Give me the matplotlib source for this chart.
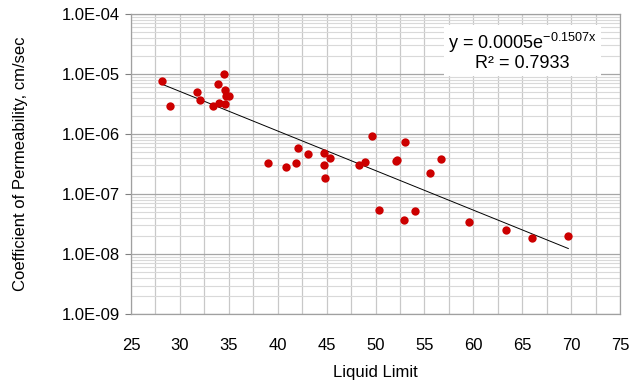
import numpy as np
import matplotlib
matplotlib.use("Agg")
import matplotlib.pyplot as plt
from matplotlib.ticker import FixedLocator, FixedFormatter, MultipleLocator, LogLocator, NullFormatter

plt.rcParams['font.family'] = ['Liberation Sans', 'DejaVu Sans']

# Liquid limit vs. coefficient of permeability (cm/sec)
liquid_limit = [28.2, 29.0, 31.8, 32.1, 33.4, 33.9, 34.5, 34.6, 34.7, 35.0, 34.0, 34.6,
                39.0, 40.8, 41.9, 42.1, 43.1, 44.7, 45.3, 44.7, 44.8,
                48.3, 48.9, 49.6, 50.3, 52.1, 52.2, 53.0, 52.9, 54.0,
                55.6, 56.7, 59.6, 63.3, 66.0, 69.7]
permeability = [7.7e-6, 2.93e-6, 4.92e-6, 3.69e-6, 2.93e-6, 6.68e-6, 1.01e-5, 5.41e-6,
                4.35e-6, 4.30e-6, 3.25e-6, 3.19e-6,
                3.25e-7, 2.82e-7, 3.26e-7, 5.91e-7, 4.70e-7, 4.88e-7, 3.95e-7, 3.01e-7, 1.85e-7,
                3.10e-7, 3.44e-7, 9.16e-7, 5.35e-8, 3.59e-7, 3.66e-7, 7.30e-7, 3.69e-8, 5.27e-8,
                2.21e-7, 3.83e-7, 3.41e-8, 2.51e-8, 1.83e-8, 2.02e-8]

ytick_values = [1e-9, 1e-8, 1e-7, 1e-6, 1e-5, 1e-4]
ytick_labels = ['1.0E-09', '1.0E-08', '1.0E-07', '1.0E-06', '1.0E-05', '1.0E-04']

x = np.array(liquid_limit)
k = np.array(permeability)

# exponential trendline: ln(k) = b*x + ln(a)
b, ln_a = np.polyfit(x, np.log(k), 1)
xt = np.array([x.min(), x.max()])
kt = np.exp(ln_a) * np.exp(b * xt)

fig = plt.figure(figsize=(6.42, 3.85), dpi=100)
ax = fig.add_axes([0.204, 0.184, 0.762, 0.78])

ax.set_yscale('log')
ax.set_xlim(25, 75)
ax.set_ylim(1e-9, 1e-4)

ax.xaxis.set_major_locator(MultipleLocator(5))
ax.xaxis.set_minor_locator(MultipleLocator(2.5))
ax.yaxis.set_major_locator(FixedLocator(ytick_values))
ax.yaxis.set_major_formatter(FixedFormatter(ytick_labels))
ax.yaxis.set_minor_locator(LogLocator(base=10, subs=np.arange(2, 10)))
ax.yaxis.set_minor_formatter(NullFormatter())

ax.grid(True, which='major', axis='y', color='#a6a6a6', lw=0.9)
ax.grid(True, which='minor', axis='y', color='#d9d9d9', lw=0.8)
ax.grid(True, which='both', axis='x', color='#c8c8c8', lw=0.9)
ax.set_axisbelow(True)

for s in ax.spines.values():
    s.set_color('#a0a0a0')
    s.set_linewidth(0.9)

ax.tick_params(axis='y', which='major', length=4, color='#808080', labelsize=12, pad=4)
ax.tick_params(axis='y', which='minor', length=0)
ax.tick_params(axis='x', which='both', length=0, labelsize=12, pad=17)

ax.plot(xt, kt, color='black', lw=0.7, zorder=2)
ax.plot(x, k, 'o', color='#cc0000', markersize=6, markeredgewidth=0, zorder=3)

ax.text(0.8, 0.875, 'y = 0.0005e$^{\\mathregular{-0.1507x}}$\nR\u00b2 = 0.7933',
        transform=ax.transAxes, ha='center', va='center', fontsize=13,
        multialignment='center', linespacing=1.0,
        bbox=dict(facecolor='white', edgecolor='none', pad=3))

ax.set_xlabel('Liquid Limit', fontsize=12, labelpad=9)
ax.set_ylabel('Coefficient of Permeability, cm/sec', fontsize=12, labelpad=24)

fig.savefig('out.png', dpi=100)
